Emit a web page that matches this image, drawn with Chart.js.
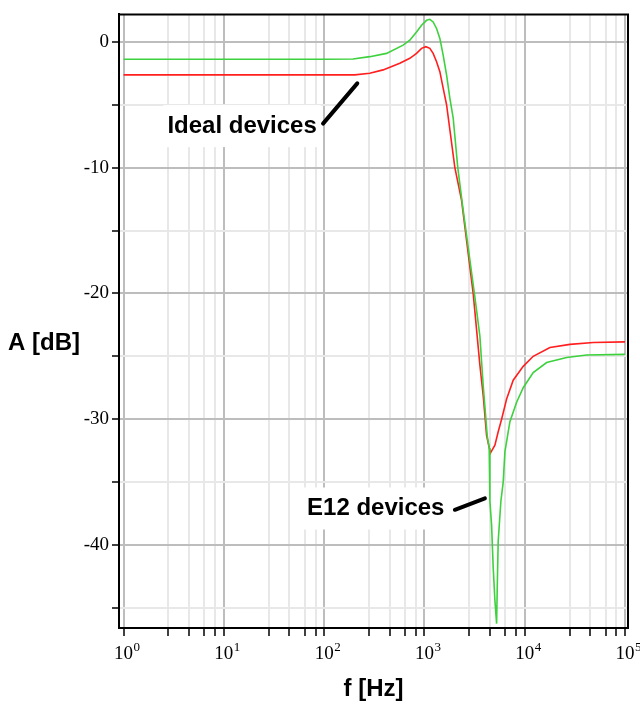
<!DOCTYPE html>
<html>
<head>
<meta charset="utf-8">
<script src="https://cdn.jsdelivr.net/npm/chart.js@4/dist/chart.umd.min.js"></script>
<style>
  html, body { margin: 0; padding: 0; background: #fff; }
  #wrap { position: relative; width: 640px; height: 709px; }
</style>
</head>
<body>
<div id="wrap"><canvas id="c" width="640" height="709"></canvas></div>
<script>
// Filter response: gain versus frequency, ideal component values and nearest E12 values
const freqIdeal = [1, 10, 100, 202, 285, 387, 568, 715, 834, 936, 1033, 1132, 1221, 1321, 1425, 1537, 1662,
                   2011, 2346, 3062, 3572, 3853, 4167, 4550, 5043, 5439, 5882, 6598, 7679, 9661, 12155,
                   17844, 28257, 48270, 100000];
const gainIdeal = [-2.63, -2.63, -2.63, -2.63, -2.5, -2.23, -1.7, -1.31, -0.92, -0.52, -0.39, -0.52, -0.92,
                   -1.58, -2.37, -3.68, -5.0, -10, -12.6, -20, -25.7, -28.1, -31.3, -32.7, -32.07, -31.0,
                   -30.0, -28.4, -26.9, -25.8, -25.0, -24.3, -24.05, -23.9, -23.85];

const freqE12 = [1, 100, 194, 285, 419, 613, 715, 834, 936, 1050, 1132, 1221, 1321, 1425, 1537, 1662, 1792,
                 1934, 2150, 2390, 3184, 3572, 3853, 4225, 4423, 4495, 4673, 4850, 5043, 5244, 5316, 5439,
                 5788, 6102, 6345, 7117, 8304, 9661, 12155, 16544, 26194, 41480, 100000];
const gainE12 = [-1.38, -1.38, -1.36, -1.18, -0.92, -0.26, 0.13, 0.79, 1.32, 1.71, 1.79, 1.58, 1.06, 0.27,
                 -1.05, -2.63, -4.47, -6.04, -10, -12.9, -20.3, -23.4, -27.3, -31.3, -32.3, -36.5, -38.4,
                 -41.8, -44.4, -46.25, -43.6, -39.7, -36.5, -35, -32.6, -30.2, -28.65, -27.5, -26.3, -25.5,
                 -25.1, -24.9, -24.85];

// Axis ticks: decades with four unlabelled subdivisions, gain every 5 dB (labelled every 10 dB)
const decadeTicks = [1, 10, 100, 1000, 10000, 100000];
const minorSteps = [2.8, 4.5, 6.4, 8.2];
const gainTicks = [-45, -40, -35, -30, -25, -20, -15, -10, -5, 0];

// Callout labels, anchored in data units (frequency, gain)
const notes = [
  { text: 'Ideal devices', at: [15.2, -6.7], arrow: [[97.5, -6.5], [214, -3.3]] },
  { text: 'E12 devices',   at: [327, -37.1], arrow: [[2011, -37.2], [4008, -36.3]] }
];

const xTickValues = [];
decadeTicks.forEach((d, i) => {
  xTickValues.push(d);
  if (i < decadeTicks.length - 1) minorSteps.forEach(m => xTickValues.push(d * m));
});
const isDecade = v => Math.abs(Math.log10(v) - Math.round(Math.log10(v))) < 1e-9;

const SERIF = '"Liberation Serif", "Times New Roman", serif';
const SANS = '"Liberation Sans", Arial, sans-serif';
const BOLD = 'bold 24px ' + SANS;

const decorations = {
  id: 'decorations',
  beforeDatasetsDraw(chart) {
    const { ctx, scales: { x, y } } = chart;
    ctx.save();
    ctx.font = BOLD;
    notes.forEach(n => {
      const cx = x.getPixelForValue(n.at[0]);
      const cy = y.getPixelForValue(n.at[1]);
      const w = ctx.measureText(n.text).width;
      ctx.fillStyle = '#fff';
      ctx.fillRect(cx - w / 2 - 4, cy - 21, w + 8, 42);
    });
    ctx.restore();
  },
  afterDraw(chart) {
    const { ctx, chartArea: a, scales: { x, y } } = chart;
    ctx.save();
    // closing edges of the plot frame
    ctx.strokeStyle = '#000';
    ctx.lineWidth = 2;
    ctx.beginPath();
    ctx.moveTo(a.left, a.top);
    ctx.lineTo(a.right, a.top);
    ctx.lineTo(a.right, a.bottom);
    ctx.stroke();

    // decade labels on the frequency axis: 10 with a raised exponent
    ctx.fillStyle = '#000';
    decadeTicks.forEach(d => {
      const px = x.getPixelForValue(d);
      ctx.font = '19px ' + SERIF;
      ctx.textAlign = 'center';
      ctx.textBaseline = 'alphabetic';
      const w = ctx.measureText('10').width;
      ctx.fillText('10', px, a.bottom + 31);
      ctx.font = '13px ' + SERIF;
      ctx.textAlign = 'left';
      ctx.fillText(String(Math.round(Math.log10(d))), px + w / 2 + 0.5, a.bottom + 22.5);
    });

    // horizontal gain-axis title
    ctx.font = BOLD;
    ctx.textAlign = 'left';
    ctx.textBaseline = 'middle';
    ctx.fillText('A [dB]', 8, y.getPixelForValue(-23.95));

    // callouts
    ctx.textAlign = 'center';
    notes.forEach(n => {
      ctx.fillStyle = '#000';
      ctx.fillText(n.text, x.getPixelForValue(n.at[0]), y.getPixelForValue(n.at[1]));
      ctx.lineWidth = 4;
      ctx.lineCap = 'round';
      ctx.beginPath();
      ctx.moveTo(x.getPixelForValue(n.arrow[0][0]), y.getPixelForValue(n.arrow[0][1]));
      ctx.lineTo(x.getPixelForValue(n.arrow[1][0]), y.getPixelForValue(n.arrow[1][1]));
      ctx.stroke();
    });
    ctx.restore();
  }
};

new Chart(document.getElementById('c'), {
  type: 'line',
  data: {
    datasets: [
      {
        label: 'E12 devices',
        data: freqE12.map((f, i) => ({ x: f, y: gainE12[i] })),
        borderColor: '#3dd13d',
        borderWidth: 1.6,
        pointRadius: 0,
        tension: 0,
        fill: false
      },
      {
        label: 'Ideal devices',
        data: freqIdeal.map((f, i) => ({ x: f, y: gainIdeal[i] })),
        borderColor: '#ff1f1f',
        borderWidth: 1.6,
        pointRadius: 0,
        tension: 0,
        fill: false
      }
    ]
  },
  options: {
    responsive: false,
    animation: false,
    devicePixelRatio: 1,
    layout: { padding: { left: 0, right: 12, top: 9, bottom: 0 } },
    plugins: { legend: { display: false }, tooltip: { enabled: false } },
    scales: {
      x: {
        type: 'logarithmic',
        position: 'bottom',
        min: 0.9,
        max: 107130,
        afterBuildTicks: s => { s.ticks = xTickValues.map(v => ({ value: v })); },
        afterFit: s => { s.height = 81; },
        grid: {
          color: c => (c.tick && isDecade(c.tick.value)) ? '#bdbdbd' : '#e8e8e8',
          lineWidth: 2,
          tickColor: '#000',
          tickLength: 8,
          tickWidth: 1.5
        },
        border: { display: true, color: '#000', width: 2 },
        ticks: {
          autoSkip: false,
          maxRotation: 0,
          minRotation: 0,
          callback: () => ''
        },
        title: {
          display: true,
          text: 'f [Hz]',
          color: '#000',
          font: { family: SANS, size: 24, weight: 'bold' },
          padding: { top: 0, bottom: 5 }
        }
      },
      y: {
        type: 'linear',
        min: -46.6,
        max: 2.18,
        afterBuildTicks: s => { s.ticks = gainTicks.map(v => ({ value: v })); },
        afterFit: s => { s.width = 119; },
        grid: {
          color: c => (c.tick && c.tick.value % 10 === 0) ? '#bdbdbd' : '#e8e8e8',
          lineWidth: 2,
          tickColor: '#000',
          tickLength: 7,
          tickWidth: 1.5
        },
        border: { display: true, color: '#000', width: 2 },
        ticks: {
          padding: 3,
          color: '#000',
          font: { family: SERIF, size: 19 },
          callback: v => (v % 10 === 0) ? String(v) : ''
        }
      }
    }
  },
  plugins: [decorations]
});
</script>
</body>
</html>
